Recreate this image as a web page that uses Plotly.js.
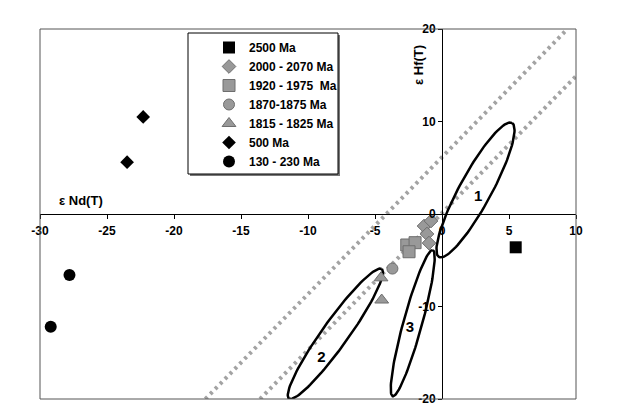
<!DOCTYPE html>
<html><head><meta charset="utf-8">
<script src="https://cdn.plot.ly/plotly-3.0.1.min.js"></script>
<style>body{margin:0;background:#fff}#chart{width:630px;height:419px}</style>
</head><body><div id="chart"></div>
<script>
const FONT = 'Liberation Sans, Arial, sans-serif';

// ---- data (εNd(T), εHf(T)) ----
const seriesNames = ['2500 Ma', '2000 - 2070 Ma', '1920 - 1975  Ma', '1870-1875 Ma', '1815 - 1825 Ma', '500 Ma', '130 - 230 Ma'];
const nd2500 = [5.5];                      const hf2500 = [-3.6];
const nd2000 = [-1.34, -0.82, -1.12, -0.97]; const hf2000 = [-1.3, -0.76, -2.16, -3.14];
const nd1920 = [-2.63, -2.01, -2.46];      const hf1920 = [-3.35, -3.1, -4.08];
const nd1870 = [-3.7];                     const hf1870 = [-5.9];
const nd1815 = [-4.55, -4.5];              const hf1815 = [-6.9, -9.3];
const nd500 = [-22.3, -23.5];              const hf500 = [10.5, 5.6];
const nd130 = [-27.8, -29.2];              const hf130 = [-6.6, -12.2];

// dotted reference lines (end points)
const upperLineNd = [-17.66, 9.36];  const upperLineHf = [-20, 20];
const lowerLineNd = [-13.58, 10];    const lowerLineHf = [-20, 14.9];

// ellipses 1-3: major-axis tips and minor half-width (εNd units)
const ellipseNames = ['1', '2', '3'];
const ellipseTipANd = [5.22, -4.5, -0.69];   const ellipseTipAHf = [9.84, -5.95, -3.9];
const ellipseTipBNd = [-0.22, -11.42, -3.68]; const ellipseTipBHf = [-4.65, -19.95, -19.7];
const ellipseHalfWidth = [1.19, 0.97, 0.70];
const ellipseLabelNd = [2.7, -9.0, -2.4];    const ellipseLabelHf = [1.8, -15.6, -12.4];

// axis ticks
const xTicks = [-30, -25, -20, -15, -10, -5, 0, 5, 10];
const yTicks = [-20, -10, 0, 10, 20];

// ---- layout geometry ----
const W = 630, H = 419, ML = 40, MR = 54, MT = 29, MB = 20;
const PW = W - ML - MR, PH = H - MT - MB;
const xR = [-30, 10], yR = [-20, 20];
const sx = PW / (xR[1] - xR[0]), sy = PH / (yR[1] - yR[0]);

function ellipsePts(i) {
  const ax = ellipseTipANd[i] * sx, ay = ellipseTipAHf[i] * sy;
  const bx = ellipseTipBNd[i] * sx, by = ellipseTipBHf[i] * sy;
  const cx = (ax + bx) / 2, cy = (ay + by) / 2;
  const ux = (ax - bx) / 2, uy = (ay - by) / 2;
  const L = Math.hypot(ux, uy);
  const nx = -uy / L, ny = ux / L;
  const wp = ellipseHalfWidth[i] * sx;
  const xs = [], ys = [];
  for (let k = 0; k <= 120; k++) {
    const t = 2 * Math.PI * k / 120;
    xs.push((cx + ux * Math.cos(t) + nx * wp * Math.sin(t)) / sx);
    ys.push((cy + uy * Math.cos(t) + ny * wp * Math.sin(t)) / sy);
  }
  return {xs, ys};
}

const traces = [];
const dotLine = {color: '#a3a3a3', width: 4, dash: '3px,4px'};
traces.push({x: upperLineNd, y: upperLineHf, mode: 'lines', line: dotLine, showlegend: false, hoverinfo: 'skip'});
traces.push({x: lowerLineNd, y: lowerLineHf, mode: 'lines', line: dotLine, showlegend: false, hoverinfo: 'skip'});
for (let i = 0; i < ellipseNames.length; i++) {
  const e = ellipsePts(i);
  traces.push({x: e.xs, y: e.ys, mode: 'lines', line: {color: '#000', width: 2.5}, showlegend: false, hoverinfo: 'skip'});
}
traces.push({x: ellipseLabelNd, y: ellipseLabelHf, text: ellipseNames, mode: 'text',
  textfont: {family: FONT, size: 15, color: '#000', weight: 'bold'}, showlegend: false, hoverinfo: 'skip'});

const gray = '#999999', grayEdge = '#6e6e6e';
const seriesX = [nd2500, nd2000, nd1920, nd1870, nd1815, nd500, nd130];
const seriesY = [hf2500, hf2000, hf1920, hf1870, hf1815, hf500, hf130];
const markers = [
  {symbol: 'square', size: 12, color: '#000'},
  {symbol: 'diamond', size: 10.5, color: gray, line: {color: grayEdge, width: 1}},
  {symbol: 'square', size: 12, color: gray, line: {color: grayEdge, width: 1}},
  {symbol: 'circle', size: 11, color: gray, line: {color: grayEdge, width: 1}},
  {symbol: 'triangle-up', size: 12, color: gray, line: {color: grayEdge, width: 1}},
  {symbol: 'diamond', size: 10.5, color: '#000'},
  {symbol: 'circle', size: 12, color: '#000'}
];
for (let i = 0; i < seriesNames.length; i++) {
  traces.push({x: seriesX[i], y: seriesY[i], name: seriesNames[i], mode: 'markers', marker: markers[i], cliponaxis: false});
}

const bold = {family: FONT, size: 12, color: '#000', weight: 'bold'};
const px2paperX = p => (p - ML) / PW, px2paperY = p => (H - MB - p) / PH;

const layout = {
  width: W, height: H,
  margin: {l: ML, r: MR, t: MT, b: MB, pad: 0},
  paper_bgcolor: '#fff', plot_bgcolor: '#fff',
  font: bold,
  showlegend: true,
  legend: {x: px2paperX(209), y: px2paperY(33), xanchor: 'left', yanchor: 'top',
    bgcolor: 'rgba(0,0,0,0)', borderwidth: 0, font: bold, tracegroupgap: 0},
  xaxis: {range: xR, anchor: 'free', position: 0.5, showline: true, linecolor: '#000', linewidth: 1,
    showgrid: false, zeroline: false, ticks: 'outside', ticklen: 4, tickcolor: '#000', ticklabelstandoff: 2,
    tickvals: xTicks, ticktext: xTicks.map(String), tickfont: bold},
  yaxis: {range: yR, anchor: 'free', position: 0.75, showline: true, linecolor: '#000', linewidth: 1,
    showgrid: false, zeroline: false, ticks: 'outside', ticklen: 4, tickcolor: '#000',
    tickvals: yTicks, ticktext: yTicks.map(String), tickfont: bold},
  shapes: [
    {type: 'rect', xref: 'paper', yref: 'paper', x0: 0, x1: 1, y0: 0, y1: 1, line: {color: '#555', width: 1}},
    {type: 'rect', xref: 'paper', yref: 'paper', layer: 'below',
      x0: px2paperX(190), x1: px2paperX(340), y0: px2paperY(176), y1: px2paperY(35),
      fillcolor: '#777', line: {width: 0}},
    {type: 'rect', xref: 'paper', yref: 'paper', layer: 'below',
      x0: px2paperX(188), x1: px2paperX(338), y0: px2paperY(174), y1: px2paperY(33),
      fillcolor: '#fff', line: {color: '#000', width: 1}}
  ],
  annotations: [
    {text: 'ε Nd(T)', xref: 'paper', yref: 'paper', x: px2paperX(57), y: px2paperY(200),
      xanchor: 'left', yanchor: 'middle', showarrow: false, font: {family: FONT, size: 13, color: '#000', weight: 'bold'}},
    {text: 'ε Hf(T)', xref: 'paper', yref: 'paper', x: px2paperX(418), y: px2paperY(65),
      xanchor: 'center', yanchor: 'middle', textangle: -90, showarrow: false, font: {family: FONT, size: 13, color: '#000', weight: 'bold'}}
  ]
};

Plotly.newPlot('chart', traces, layout, {displayModeBar: false, staticPlot: true});
</script>
</body></html>
